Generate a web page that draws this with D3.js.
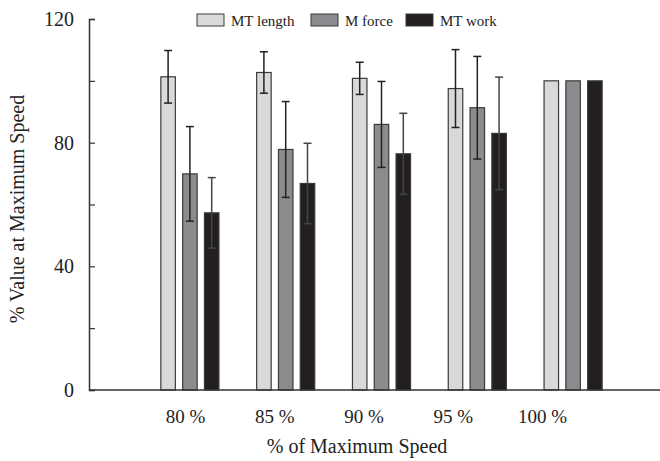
<!DOCTYPE html>
<html>
<head>
<meta charset="utf-8">
<script src="https://cdn.jsdelivr.net/npm/d3@7/dist/d3.min.js"></script>
<style>
  body { margin: 0; background: #fff; }
  svg { display: block; font-family: "Liberation Serif", "Times New Roman", serif; }
</style>
</head>
<body>
<div class="container"></div>
<script>
var categories = ["80 %", "85 %", "90 %", "95 %", "100 %"];
var seriesNames = ["MT length", "M force", "MT work"];
var mtLength = [101.3, 102.7, 100.8, 97.5, 100];
var mForce = [69.9, 77.8, 85.9, 91.3, 100];
var mtWork = [57.3, 66.8, 76.4, 83, 100];
var mtLengthErr = [8.5, 6.7, 5.2, 12.6, 0];
var mForceErr = [15.3, 15.5, 13.9, 16.6, 0];
var mtWorkErr = [11.4, 13, 13.1, 18.2, 0];
var yTicks = [0, 20, 40, 60, 80, 100, 120];

(function() {
	var width = 660, height = 461;
	var font = "Liberation Serif";
	var colors = ["#d8d9db", "#8b8c8f", "#231f20"];
	var values = [mtLength, mForce, mtWork];
	var errors = [mtLengthErr, mForceErr, mtWorkErr];

	var svg = d3.select(".container").append("svg")
		.attr("width", width)
		.attr("height", height);

	var y = d3.scaleLinear().domain([0, 120]).range([390, 19]);
	var x0 = d3.scaleBand().domain(categories).range([142, 621]);
	var x1 = d3.scaleBand().domain(seriesNames).range([0, x0.bandwidth()])
		.paddingInner(0.335).paddingOuter(0.865);
	var labelX = d3.scalePoint().domain(categories).range([185, 542]);

	var data = [];
	categories.forEach(function(c, i) {
		seriesNames.forEach(function(s, j) {
			data.push({cat: c, series: s, idx: j, value: values[j][i], err: errors[j][i]});
		});
	});

	// bars
	svg.selectAll("rect.bar").data(data).enter().append("rect")
		.attr("class", "bar")
		.attr("x", function(d) { return x0(d.cat) + x1(d.series); })
		.attr("y", function(d) { return y(d.value); })
		.attr("width", x1.bandwidth())
		.attr("height", function(d) { return y(0) - y(d.value); })
		.style("fill", function(d) { return colors[d.idx]; })
		.style("stroke", "#3a3a3a")
		.style("stroke-width", 1.2);

	// error bars
	var errData = data.filter(function(d) { return d.err > 0; });
	var eg = svg.selectAll("g.err").data(errData).enter().append("g")
		.attr("class", "err")
		.style("stroke", function(d) { return d.idx === 2 ? "#444" : "#222"; })
		.style("stroke-width", 1.5);
	eg.append("line")
		.attr("x1", function(d) { return x0(d.cat) + x1(d.series) + x1.bandwidth() / 2; })
		.attr("x2", function(d) { return x0(d.cat) + x1(d.series) + x1.bandwidth() / 2; })
		.attr("y1", function(d) { return y(d.value + d.err); })
		.attr("y2", function(d) { return y(d.value - d.err); });
	[1, -1].forEach(function(sgn) {
		eg.append("line")
			.attr("x1", function(d) { return x0(d.cat) + x1(d.series) + x1.bandwidth() / 2 - 4; })
			.attr("x2", function(d) { return x0(d.cat) + x1(d.series) + x1.bandwidth() / 2 + 4; })
			.attr("y1", function(d) { return y(d.value + sgn * d.err); })
			.attr("y2", function(d) { return y(d.value + sgn * d.err); });
	});

	// y axis
	var yAxis = d3.axisLeft(y).tickValues(yTicks).tickSize(-6).tickPadding(15)
		.tickFormat(function(d) { return d % 40 === 0 ? d : ""; });
	var gy = svg.append("g").attr("transform", "translate(89,0)").call(yAxis);
	gy.attr("font-family", font);
	gy.select(".domain").style("stroke", "#333").style("stroke-width", 1.5);
	gy.selectAll(".tick line").style("stroke", "#333").style("stroke-width", 1.2);
	gy.selectAll("text").style("font-family", font).style("font-size", "20px").style("fill", "#222");

	// x axis line
	svg.append("line")
		.attr("x1", 89).attr("x2", 660)
		.attr("y1", y(0)).attr("y2", y(0))
		.style("stroke", "#333").style("stroke-width", 1.5);

	var xAxis = d3.axisBottom(labelX).tickSize(0).tickPadding(20);
	var gx = svg.append("g").attr("transform", "translate(0," + y(0) + ")").call(xAxis);
	gx.attr("font-family", font);
	gx.select(".domain").remove();
	gx.selectAll("text").style("font-family", font).style("font-size", "19px").style("fill", "#222");

	// axis titles
	svg.append("text")
		.attr("x", 357).attr("y", 453)
		.attr("text-anchor", "middle")
		.style("font-family", font)
		.style("font-size", "20px").style("fill", "#222")
		.text("% of Maximum Speed");
	svg.append("text")
		.attr("transform", "translate(24,209) rotate(-90)")
		.attr("text-anchor", "middle")
		.style("font-family", font)
		.style("font-size", "20px").style("fill", "#222")
		.text("% Value at Maximum Speed");

	// legend
	var legendX = [197, 311, 406];
	var lg = svg.selectAll("g.legend").data(seriesNames).enter().append("g")
		.attr("class", "legend")
		.attr("transform", function(d, i) { return "translate(" + legendX[i] + ",14)"; });
	lg.append("rect")
		.attr("width", 27).attr("height", 12)
		.style("fill", function(d, i) { return colors[i]; })
		.style("stroke", "#3a3a3a").style("stroke-width", 1);
	lg.append("text")
		.attr("x", 34).attr("y", 11.5)
		.style("font-family", font)
		.style("font-size", "15px").style("fill", "#222")
		.text(function(d) { return d; });
})();
</script>
</body>
</html>
